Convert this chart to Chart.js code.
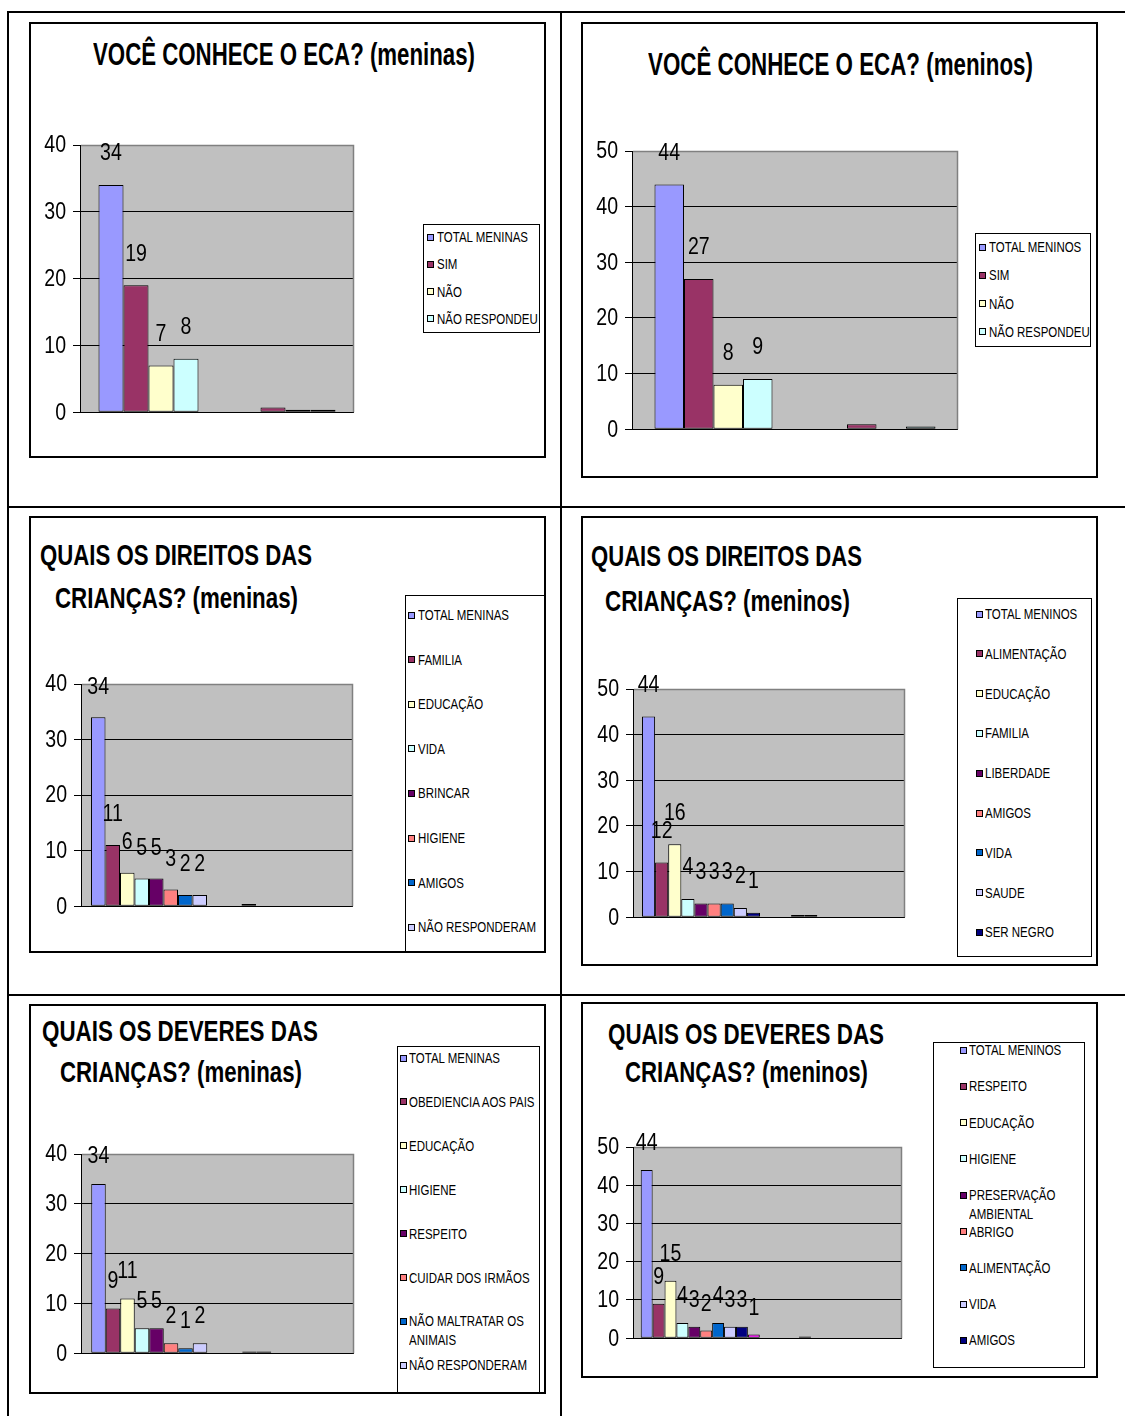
<!DOCTYPE html>
<html><head><meta charset="utf-8">
<script src="https://cdn.jsdelivr.net/npm/chart.js@4.4.0/dist/chart.umd.min.js"></script>
<style>
html,body{margin:0;padding:0;background:#fff;}
body{width:1125px;height:1416px;position:relative;overflow:hidden;font-family:"Liberation Sans",Arial,sans-serif;}
.line{position:absolute;background:#000;}
.box{position:absolute;border:2px solid #000;box-sizing:border-box;}
.title{position:absolute;font-weight:bold;white-space:nowrap;transform-origin:0 0;line-height:1;color:#000;}
.lg{position:absolute;border:1px solid #000;box-sizing:border-box;background:#fff;}
.li{position:absolute;font-size:14px;line-height:1;white-space:nowrap;color:#000;transform:scaleX(0.82);transform-origin:0 0;}
.mk{position:absolute;width:7px;height:7px;border:1px solid #000;box-sizing:border-box;}
canvas{position:absolute;}
</style></head><body>
<script>
// ---------------- DATA ----------------
const CATEGORIES = ['Grupo 1', 'Grupo 2'];
const PALETTE = ['#9999FF','#993366','#FFFFCC','#CCFFFF','#660066','#FF8080','#0066CC','#CCCCFF','#000080','#FF00FF'];

const ecaMeninasTitle = ['VOCÊ CONHECE O ECA? (meninas)'];
const ecaMeninasSeries = ['TOTAL MENINAS','SIM','NÃO','NÃO RESPONDEU'];
const ecaMeninasValues = [34,19,7,8];
const ecaMeninasGroup2 = [0,0.7,0.35,0.35];
const ecaMeninasTicks = [0,10,20,30,40];

const ecaMeninosTitle = ['VOCÊ CONHECE O ECA? (meninos)'];
const ecaMeninosSeries = ['TOTAL MENINOS','SIM','NÃO','NÃO RESPONDEU'];
const ecaMeninosValues = [44,27,8,9];
const ecaMeninosGroup2 = [0,0.9,0,0.5];
const ecaMeninosTicks = [0,10,20,30,40,50];

const direitosMeninasTitle = ['QUAIS OS DIREITOS DAS','CRIANÇAS? (meninas)'];
const direitosMeninasSeries = ['TOTAL MENINAS','FAMILIA','EDUCAÇÃO','VIDA','BRINCAR','HIGIENE','AMIGOS','NÃO RESPONDERAM'];
const direitosMeninasValues = [34,11,6,5,5,3,2,2];
const direitosMeninasGroup2 = [0,0.4,0,0,0,0,0,0];
const direitosMeninasTicks = [0,10,20,30,40];

const direitosMeninosTitle = ['QUAIS OS DIREITOS DAS','CRIANÇAS? (meninos)'];
const direitosMeninosSeries = ['TOTAL MENINOS','ALIMENTAÇÃO','EDUCAÇÃO','FAMILIA','LIBERDADE','AMIGOS','VIDA','SAUDE','SER NEGRO'];
const direitosMeninosValues = [44,12,16,4,3,3,3,2,1];
const direitosMeninosGroup2 = [0,0.5,0.5,0,0,0,0,0,0];
const direitosMeninosTicks = [0,10,20,30,40,50];

const deveresMeninasTitle = ['QUAIS OS DEVERES DAS','CRIANÇAS? (meninas)'];
const deveresMeninasSeries = ['TOTAL MENINAS','OBEDIENCIA AOS PAIS','EDUCAÇÃO','HIGIENE','RESPEITO','CUIDAR DOS IRMÃOS',['NÃO MALTRATAR OS','ANIMAIS'],'NÃO RESPONDERAM'];
const deveresMeninasValues = [34,9,11,5,5,2,1,2];
const deveresMeninasGroup2 = [0,0.35,0.35,0,0,0,0,0];
const deveresMeninasTicks = [0,10,20,30,40];

const deveresMeninosTitle = ['QUAIS OS DEVERES DAS','CRIANÇAS? (meninos)'];
const deveresMeninosSeries = ['TOTAL MENINOS','RESPEITO','EDUCAÇÃO','HIGIENE',['PRESERVAÇÃO','AMBIENTAL'],'ABRIGO','ALIMENTAÇÃO','VIDA','AMIGOS',''];
const deveresMeninosValues = [44,9,15,4,3,2,4,3,3,1];
const deveresMeninosGroup2 = [0,0,0.45,0,0,0,0,0,0,0];
const deveresMeninosTicks = [0,10,20,30,40,50];

// ---------------- LAYOUT (positions / styles) ----------------
const FONT = '"Liberation Sans",Arial,sans-serif';
const NUM_SX = 0.85;   // horizontal compression of numbers (narrow face)
const CHARTS = [
  {title:ecaMeninasTitle, series:ecaMeninasSeries, values:ecaMeninasValues, group2:ecaMeninasGroup2, ticks:ecaMeninasTicks,
   box:[29,22,546,458], plot:{L:80,T:145,R:354,B:413,cp:0.73,off:31},
   titles:[{x:93,y:43,w:382}], fs:31,
   legend:{box:[423,224,117,109], cy:237, step:27.3, mx:427, tx:437}},
  {title:ecaMeninosTitle, series:ecaMeninosSeries, values:ecaMeninosValues, group2:ecaMeninosGroup2, ticks:ecaMeninosTicks,
   box:[581,22,1098,478], plot:{L:632,T:151,R:958,B:430,cp:0.724,off:31},
   titles:[{x:648,y:53,w:385}], fs:31,
   legend:{box:[975,233,116,114], cy:247, step:28.3, mx:979, tx:989}},
  {title:direitosMeninasTitle, series:direitosMeninasSeries, values:direitosMeninasValues, group2:direitosMeninasGroup2, ticks:direitosMeninasTicks,
   box:[29,516,546,953], plot:{L:81,T:684,R:353,B:907,cp:0.853,off:30},
   titles:[{x:40,y:544,w:272},{x:55,y:587,w:243}], fs:30,
   legend:{box:[405,595,140,358], cy:615, step:44.6, mx:408, tx:418}},
  {title:direitosMeninosTitle, series:direitosMeninosSeries, values:direitosMeninosValues, group2:direitosMeninosGroup2, ticks:direitosMeninosTicks,
   box:[581,516,1098,966], plot:{L:633,T:689,R:905,B:918,cp:0.868,off:31},
   titles:[{x:591,y:545,w:271},{x:605,y:590,w:245}], fs:30,
   legend:{box:[957,598,135,359], cy:614, step:39.8, mx:976, tx:985}},
  {title:deveresMeninasTitle, series:deveresMeninasSeries, values:deveresMeninasValues, group2:deveresMeninasGroup2, ticks:deveresMeninasTicks,
   box:[29,1004,546,1394], plot:{L:81,T:1154,R:354,B:1354,cp:0.85,off:27},
   titles:[{x:42,y:1020,w:276},{x:60,y:1061,w:242}], fs:30,
   legend:{box:[397,1046,143,348], cy:1058, step:43.9, mx:400, tx:409}},
  {title:deveresMeninosTitle, series:deveresMeninosSeries, values:deveresMeninosValues, group2:deveresMeninosGroup2, ticks:deveresMeninosTicks,
   box:[581,1002,1098,1378], plot:{L:633,T:1147,R:902,B:1339,cp:0.885,off:26},
   titles:[{x:608,y:1023,w:276},{x:625,y:1061,w:243}], fs:30,
   legend:{box:[933,1042,152,326], cy:1050, step:36.3, mx:960, tx:969}}
];

// ---------------- helpers ----------------
function el(cls, x, y, w, h){
  const d = document.createElement('div'); d.className = cls;
  d.style.left = x+'px'; d.style.top = y+'px';
  if (w != null) d.style.width = w+'px';
  if (h != null) d.style.height = h+'px';
  document.body.appendChild(d); return d;
}
function titleText(txt, x, capTop, fs, targetW){
  const s = el('title', x, capTop - 0.13*fs);
  s.style.fontSize = fs+'px'; s.textContent = txt;
  const w = s.getBoundingClientRect().width;
  s.style.transform = 'scaleX(' + (targetW / w) + ')';
}
function narrowText(ctx, txt, x, y, align){
  ctx.save(); ctx.translate(x, y); ctx.scale(NUM_SX, 1);
  ctx.textAlign = align; ctx.fillText(txt, 0, 0); ctx.restore();
}

// table lines
el('line', 8, 11, 1117, 2);
el('line', 7, 11, 2, 1405);
el('line', 560, 11, 2, 1405);
el('line', 8, 506, 1117, 2);
el('line', 8, 994, 1117, 2);

const bgPlugin = {
  id: 'plotbg',
  beforeDraw(chart){
    const a = chart.chartArea, ctx = chart.ctx;
    ctx.save(); ctx.fillStyle = '#C0C0C0';
    ctx.fillRect(a.left, a.top, a.right - a.left, a.bottom - a.top);
    ctx.restore();
  },
  beforeDatasetsDraw(chart){
    const a = chart.chartArea, ctx = chart.ctx;
    ctx.save(); ctx.strokeStyle = '#808080'; ctx.lineWidth = 1.5;
    ctx.beginPath();
    ctx.moveTo(a.left + 1, a.top + 0.5);
    ctx.lineTo(a.right - 0.5, a.top + 0.5);
    ctx.lineTo(a.right - 0.5, a.bottom);
    ctx.stroke(); ctx.restore();
  }
};
// y tick labels in a narrow face, placed from the library's y scale
const tickPlugin = {
  id: 'narrowticks',
  afterDraw(chart){
    const s = chart.scales.y, ctx = chart.ctx;
    ctx.save(); ctx.font = '23px ' + FONT; ctx.fillStyle = '#000'; ctx.textBaseline = 'middle';
    s.ticks.forEach((t, i) => narrowText(ctx, String(t.value), chart.chartArea.left - 14, s.getPixelForTick(i) + 1, 'right'));
    ctx.restore();
  }
};
const labelPlugin = {
  id: 'vlabels',
  afterDatasetsDraw(chart, args, opts){
    const ctx = chart.ctx;
    ctx.save(); ctx.font = '23px ' + FONT; ctx.fillStyle = '#000'; ctx.textBaseline = 'middle';
    chart.data.datasets.forEach((ds, i) => {
      const bar = chart.getDatasetMeta(i).data[0];
      narrowText(ctx, String(ds.data[0]), bar.x, bar.y - opts.offset, 'center');
    });
    ctx.restore();
  }
};

CHARTS.forEach(c => {
  const [bx1, by1, bx2, by2] = c.box;
  c.title.forEach((t, i) => titleText(t, c.titles[i].x, c.titles[i].y, c.fs, c.titles[i].w));

  const p = c.plot, yW = 60, padTop = 34, padRight = 6, padBottom = 20;
  const w = p.R - p.L + yW + padRight, h = p.B - p.T + padTop + padBottom;
  const cv = document.createElement('canvas');
  cv.width = w; cv.height = h;
  cv.style.left = (p.L - yW) + 'px'; cv.style.top = (p.T - padTop) + 'px';
  cv.style.width = w + 'px'; cv.style.height = h + 'px';
  document.body.appendChild(cv);

  const datasets = c.series.map((lab, i) => ({
    label: lab, data: [c.values[i], c.group2[i]],
    backgroundColor: PALETTE[i], borderColor: '#000', borderWidth: 1, borderSkipped: false,
    categoryPercentage: p.cp, barPercentage: 1
  }));
  const ticks = c.ticks;
  const chart = new Chart(cv, {
    type: 'bar',
    data: { labels: CATEGORIES, datasets },
    options: {
      responsive: false, animation: false, devicePixelRatio: 1,
      layout: { padding: { left: 0, top: padTop, right: padRight, bottom: padBottom } },
      plugins: { legend: { display: false }, tooltip: { enabled: false }, vlabels: { offset: p.off } },
      scales: {
        x: { display: false },
        y: {
          min: ticks[0], max: ticks[ticks.length - 1],
          ticks: { stepSize: ticks[1] - ticks[0], color: 'rgba(0,0,0,0)', font: { family: FONT, size: 23 }, padding: 7 },
          grid: { color: '#000', lineWidth: 1, tickLength: 7, drawTicks: true },
          border: { display: true, color: '#000', width: 1 },
          afterFit(s){ s.width = yW; }
        }
      }
    },
    plugins: [bgPlugin, tickPlugin, labelPlugin]
  });

  const lg = c.legend;
  el('lg', lg.box[0], lg.box[1], lg.box[2], lg.box[3]);
  chart.data.datasets.forEach((ds, i) => {
    if (!ds.label || (Array.isArray(ds.label) && !ds.label.length)) return;
    const cy = lg.cy + i * lg.step;
    const m = el('mk', lg.mx, Math.round(cy - 3.5), null, null);
    m.style.background = ds.backgroundColor;
    const lines = Array.isArray(ds.label) ? ds.label : [ds.label];
    lines.forEach((ln, k) => {
      const t = el('li', lg.tx, cy - 7 + k * 19);
      t.textContent = ln;
    });
  });

  el('box', bx1, by1, bx2 - bx1, by2 - by1);
});
</script>
</body></html>
